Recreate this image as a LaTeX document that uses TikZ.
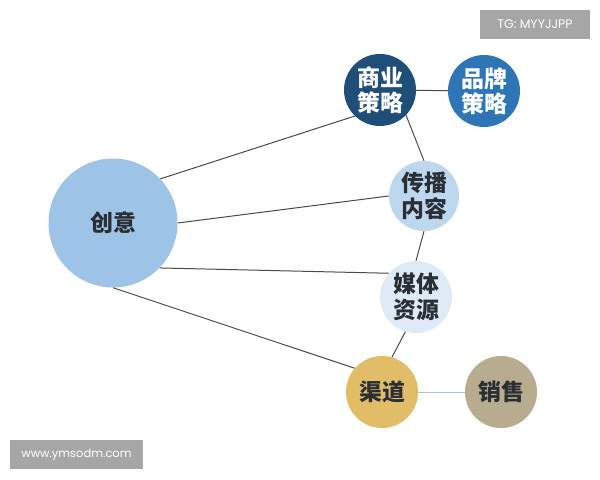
\documentclass[tikz,border=0pt]{standalone}
\usepackage{fontspec}
\setmainfont{Liberation Sans}
\newfontfamily\cjk{Noto Sans CJK SC}
\newfontfamily\wmfont{Poppins}
\definecolor{cyC}{HTML}{9DC3E6}
\definecolor{syC}{HTML}{1F4E79}
\definecolor{ppC}{HTML}{2E75B6}
\definecolor{cbC}{HTML}{BDD7EE}
\definecolor{mtC}{HTML}{DEEBF7}
\definecolor{qdC}{HTML}{E2BD68}
\definecolor{xsC}{HTML}{B8AC8E}
\definecolor{lnC}{HTML}{4A4A4A}
\definecolor{txC}{HTML}{2A2F36}
\definecolor{wmC}{HTML}{A6A6A6}
\begin{document}
\begin{tikzpicture}[x=1bp,y=-1bp,
  ball/.style={circle,inner sep=0pt,minimum size=72bp,align=center,
    font=\cjk\bfseries\fontsize{23}{25.5}\selectfont,text=txC},
  link/.style={draw=lnC,line width=1bp},
  wm/.style={fill=wmC,text=white,inner sep=0pt,font=\wmfont\fontsize{11.5}{13}\selectfont}]
\useasboundingbox (0,0) rectangle (600,480);
\fill[white] (0,0) rectangle (600,480);
\node[ball,fill=cyC,minimum size=129bp] (cy) at (113,223) {创意};
\node[ball,fill=syC,text=white] (sy) at (380,90) {商业\\策略};
\node[ball,fill=ppC,text=white] (pp) at (484,91) {品牌\\策略};
\node[ball,fill=cbC,minimum size=70bp] (cb) at (424,196) {传播\\内容};
\node[ball,fill=mtC] (mt) at (416,297) {媒体\\资源};
\node[ball,fill=qdC] (qd) at (382,392) {渠道};
\node[ball,fill=xsC] (xs) at (501,392) {销售};
\draw[link] (cy.43) -- (sy.226);
\draw[link] (cy.0) -- (cb.180);
\draw[link] (cy.-44) -- (mt.139);
\draw[link] (cy.-90) -- (qd.139);
\draw[link] (sy) -- (pp);
\draw[link] (sy.-44) -- (cb.90);
\draw[link] (cb.-90) -- (mt.90);
\draw[link] (mt.-107) -- (qd.74);
\draw[draw=cbC!80!ppC,line width=1bp] (qd) -- (xs);
\node[wm,minimum width=110bp,minimum height=29bp,font=\wmfont\fontsize{12.5}{14}\selectfont] (tg) at (535,24.5) {TG: MYYJJPP};
\node[wm,minimum width=133bp,minimum height=29bp] (www) at (76.5,454.5) {www.ymsodm.com};
\end{tikzpicture}
\end{document}
